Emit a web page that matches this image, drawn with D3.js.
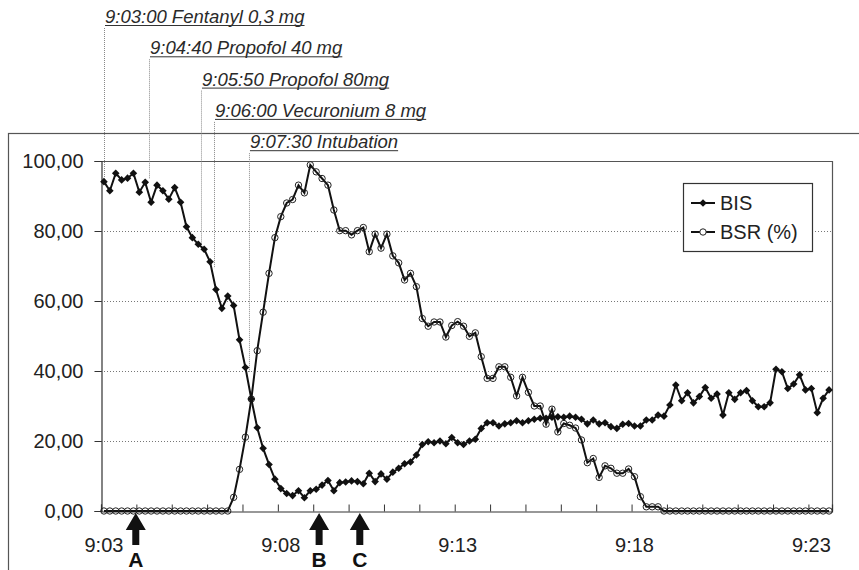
<!DOCTYPE html>
<html>
<head>
<meta charset="utf-8">
<script src="https://cdn.jsdelivr.net/npm/d3@7"></script>
<style>
    body { margin: 0; background: #fff; }
    text { font-family: Arial, "Liberation Sans", sans-serif; }
</style>
</head>
<body>
<div id="chart-area"></div>
<script>
// one sample every 10 s, starting 9:03:00
const bis = [
    94.1, 91.5, 96.5, 94.6, 95.1, 96.5, 91.1, 93.9, 88.2, 93.1,
    91.5, 89.1, 92.4, 88.2, 81.2, 78.1, 76.2, 74.8, 71.2, 63.3,
    57.9, 61.4, 58.7, 48.9, 41.0, 32.0, 23.8, 17.9, 13.3, 9.1,
    6.4, 5.0, 4.4, 5.8, 3.8, 5.8, 6.2, 7.4, 8.7, 5.8,
    8.1, 8.3, 8.6, 8.4, 7.8, 10.8, 8.4, 10.6, 9.1, 11.1,
    12.2, 13.5, 14.0, 16.0, 19.0, 19.8, 19.5, 20.0, 19.2, 21.0,
    19.5, 19.0, 20.0, 20.5, 23.6, 25.2, 25.2, 24.3, 24.9, 25.2,
    25.8, 25.2, 25.8, 26.2, 26.5, 26.5, 26.8, 26.9, 26.8, 27.1,
    26.8, 26.2, 24.9, 26.0, 24.9, 25.2, 24.1, 23.6, 24.8, 25.0,
    24.3, 24.3, 26.0, 26.0, 27.4, 27.1, 30.3, 36.0, 31.5, 33.8,
    30.9, 32.7, 35.3, 32.2, 33.4, 27.4, 33.8, 31.9, 33.8, 34.4,
    31.5, 29.8, 29.8, 30.9, 40.5, 39.8, 35.0, 36.3, 38.9, 34.6,
    35.0, 28.1, 32.2, 34.6
];
const bsr = [
    0, 0, 0, 0, 0, 0, 0, 0, 0, 0,
    0, 0, 0, 0, 0, 0, 0, 0, 0, 0,
    0, 0, 3.9, 11.9, 21.1, 32.0, 45.8, 56.8, 67.9, 78.1,
    84.1, 88.0, 89.0, 93.1, 90.9, 98.9, 96.9, 95.0, 93.1, 86.0,
    80.1, 80.1, 78.9, 80.1, 81.0, 74.1, 79.1, 75.1, 79.1, 72.9,
    70.9, 66.0, 67.9, 64.1, 55.0, 52.8, 54.0, 54.0, 49.7, 53.0,
    54.1, 52.8, 49.9, 50.9, 44.1, 37.9, 37.9, 41.2, 41.2, 38.2,
    32.9, 38.2, 33.9, 30.0, 30.0, 24.8, 29.1, 22.6, 25.0, 24.5,
    23.7, 20.3, 13.8, 15.0, 9.6, 12.9, 12.2, 10.8, 10.8, 12.0,
    9.8, 4.1, 1.2, 1.2, 1.2, 0, 0, 0, 0, 0,
    0, 0, 0, 0, 0, 0, 0, 0, 0, 0,
    0, 0, 0, 0, 0, 0, 0, 0, 0, 0,
    0, 0, 0, 0
];
const xLabels = ["9:03", "9:08", "9:13", "9:18", "9:23"];
const yTicks = [0, 20, 40, 60, 80, 100];
const seriesNames = ["BIS", "BSR (%)"];

// event lines, as drawn on the original (sample-index position, value where the line stops)
const events = [
    { text: "9:03:00 Fentanyl 0,3 mg", at: 0.51, end: 95 },
    { text: "9:04:40 Propofol 40 mg", at: 8.14, end: 95 },
    { text: "9:05:50 Propofol 80mg", at: 16.96, end: 76 },
    { text: "9:06:00 Vecuronium 8 mg", at: 19.17, end: 69.4 },
    { text: "9:07:30 Intubation", at: 25.1, end: 39.7 }
];
const arrows = [
    { label: "A", at: 5.9 },
    { label: "B", at: 37.0 },
    { label: "C", at: 43.9 }
];

const W = 859, H = 570;
const plot = { left: 101, right: 832, top: 161, bottom: 511 };

const svg = d3.select("#chart-area")
    .append("svg")
    .attr("width", W)
    .attr("height", H);

// chart area frame (only top and left edges are visible)
svg.append("rect")
    .attr("x", 8.5)
    .attr("y", 133.5)
    .attr("width", 900)
    .attr("height", 500)
    .attr("fill", "none")
    .attr("stroke", "#555")
    .attr("stroke-width", 1.2);

const x = d3.scaleLinear()
    .domain([0, bis.length])
    .range([plot.left, plot.right]);

const y = d3.scaleLinear()
    .domain([0, 100])
    .range([plot.bottom, plot.top]);

const fmt = d3.formatLocale({ decimal: ",", thousands: ".", grouping: [3], currency: ["", ""] }).format(".2f");

// grid
svg.append("g")
    .selectAll("line")
    .data(yTicks.filter(d => d > 0 && d < 100))
    .enter()
    .append("line")
    .attr("x1", plot.left)
    .attr("x2", plot.right)
    .attr("y1", d => y(d) + 0.5)
    .attr("y2", d => y(d) + 0.5)
    .attr("stroke", "#777")
    .attr("stroke-width", 1)
    .attr("stroke-dasharray", "1,2");

// plot border top + right
svg.append("path")
    .attr("d", `M${plot.left},${plot.top + 0.5}H${plot.right + 0.5}V${plot.bottom}`)
    .attr("fill", "none")
    .attr("stroke", "#555")
    .attr("stroke-width", 1.2);

// y axis
const yAxis = svg.append("g")
    .attr("transform", `translate(${plot.left + 0.5},0)`)
    .call(d3.axisLeft(y).tickValues(yTicks).tickFormat(fmt).tickSize(7).tickPadding(11));
yAxis.select(".domain").attr("stroke", "#333").attr("stroke-width", 1.2);
yAxis.selectAll(".tick line").attr("stroke", "#333");
yAxis.selectAll("text")
    .attr("font-size", "20px")
    .attr("fill", "#222")
    .attr("font-family", "Arial, 'Liberation Sans', sans-serif");

// x axis: minute ticks every 6 samples, labels every 30
const xAxis = svg.append("g")
    .attr("transform", `translate(0,${plot.bottom + 0.5})`)
    .call(d3.axisBottom(x).tickValues(d3.range(0, bis.length + 1, 6)).tickSize(-7).tickFormat(""));
xAxis.select(".domain").attr("stroke", "#333").attr("stroke-width", 1.2);
xAxis.selectAll(".tick line").attr("stroke", "#333");

svg.append("g")
    .selectAll("text")
    .data(xLabels)
    .enter()
    .append("text")
    .attr("x", (d, i) => x(i * 30 + 0.5))
    .attr("y", 552)
    .attr("text-anchor", "middle")
    .attr("font-size", "20px")
    .attr("fill", "#222")
    .text(d => d);

// event annotations
const ev = svg.append("g");
events.forEach((e, i) => {
    const base = 23 + i * 31.3;
    ev.append("line")
        .attr("x1", x(e.at) + 0.5)
        .attr("x2", x(e.at) + 0.5)
        .attr("y1", base + 5)
        .attr("y2", y(e.end))
        .attr("stroke", "#888")
        .attr("stroke-width", 1)
        .attr("stroke-dasharray", "1,1");
    const t = ev.append("text")
        .attr("x", x(e.at) + 1)
        .attr("y", base)
        .attr("font-size", "18.5px")
        .attr("font-style", "italic")
        .attr("fill", "#2a2a2a")
        .text(e.text);
    const len = t.node().getComputedTextLength();
    ev.append("line")
        .attr("x1", x(e.at) + 1)
        .attr("x2", x(e.at) + 1 + len)
        .attr("y1", base + 2.5)
        .attr("y2", base + 2.5)
        .attr("stroke", "#333")
        .attr("stroke-width", 1);
});

const diamond = "M0,-3.8L3.8,0L0,3.8L-3.8,0Z";

// series lines
const line = d3.line()
    .x((d, i) => x(i + 0.5))
    .y(d => y(d));

svg.append("path")
    .datum(bsr)
    .attr("fill", "none")
    .attr("stroke", "#111")
    .attr("stroke-width", 2)
    .attr("d", line);

svg.append("g")
    .selectAll("circle")
    .data(bsr)
    .enter()
    .append("circle")
    .attr("cx", (d, i) => x(i + 0.5))
    .attr("cy", d => y(d))
    .attr("r", 3.2)
    .attr("fill", "none")
    .attr("stroke", "#222")
    .attr("stroke-width", 1);

svg.append("path")
    .datum(bis)
    .attr("fill", "none")
    .attr("stroke", "#111")
    .attr("stroke-width", 2)
    .attr("d", line);

svg.append("g")
    .selectAll("path")
    .data(bis)
    .enter()
    .append("path")
    .attr("d", diamond)
    .attr("transform", (d, i) => `translate(${x(i + 0.5)},${y(d)})`)
    .attr("fill", "#111");

// legend
const legend = svg.append("g").attr("transform", "translate(683,183)");
legend.append("rect")
    .attr("x", 0.5)
    .attr("y", 0.5)
    .attr("width", 129)
    .attr("height", 68)
    .attr("fill", "#fff")
    .attr("stroke", "#333")
    .attr("stroke-width", 1.2);
seriesNames.forEach((name, i) => {
    const cy = 20 + i * 29;
    legend.append("line")
        .attr("x1", 8).attr("x2", 32)
        .attr("y1", cy).attr("y2", cy)
        .attr("stroke", "#111")
        .attr("stroke-width", 2);
    if (i === 0) {
        legend.append("path")
            .attr("d", diamond)
            .attr("transform", `translate(20,${cy})`)
            .attr("fill", "#111");
    } else {
        legend.append("circle")
            .attr("cx", 20).attr("cy", cy).attr("r", 3.2)
            .attr("fill", "#fff")
            .attr("stroke", "#222");
    }
    legend.append("text")
        .attr("x", 37)
        .attr("y", cy + 7)
        .attr("font-size", "20px")
        .attr("fill", "#222")
        .text(name);
});

// arrows under the axis
const ar = svg.append("g");
arrows.forEach(a => {
    const cx = x(a.at);
    ar.append("path")
        .attr("d", `M${cx},513L${cx + 10},530L${cx + 3.5},530L${cx + 3.5},545L${cx - 3.5},545L${cx - 3.5},530L${cx - 10},530Z`)
        .attr("fill", "#111");
    ar.append("text")
        .attr("x", cx)
        .attr("y", 567)
        .attr("text-anchor", "middle")
        .attr("font-size", "21px")
        .attr("font-weight", "bold")
        .attr("fill", "#111")
        .text(a.label);
});
</script>
</body>
</html>
